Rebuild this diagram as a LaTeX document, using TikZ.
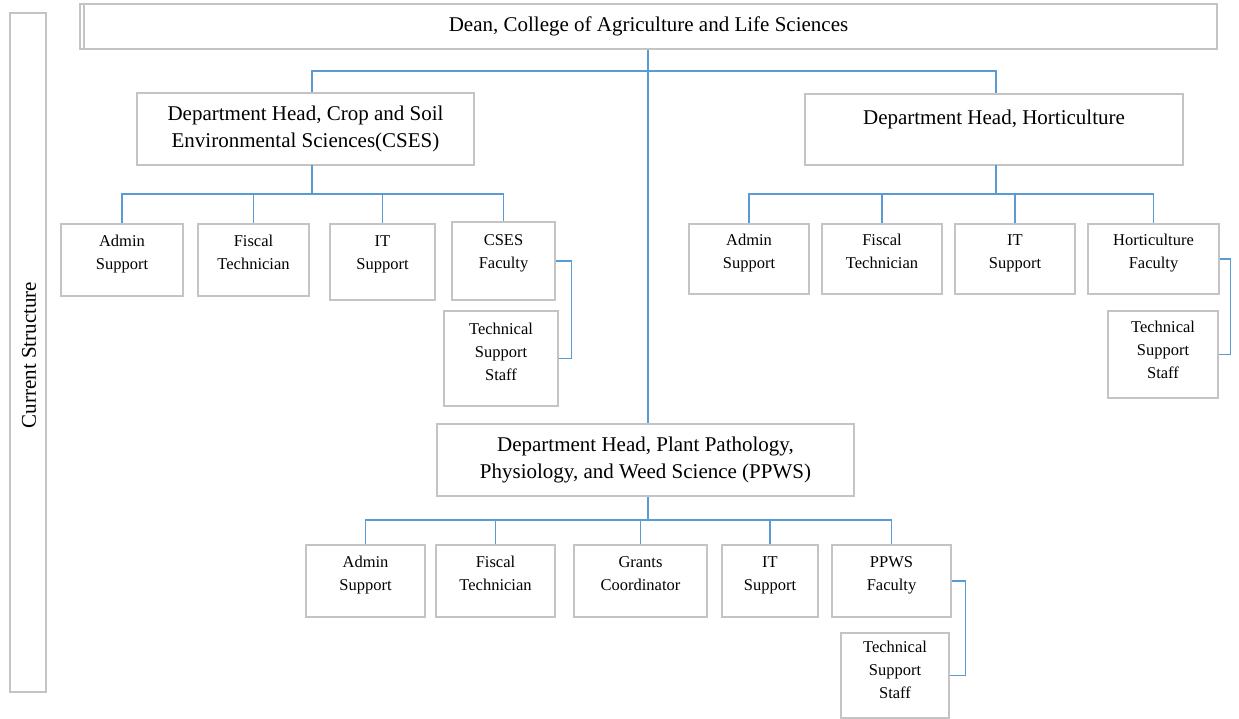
\documentclass[tikz,border=0pt]{standalone}
\usepackage{fontspec}
\setmainfont{Liberation Serif}
\definecolor{boxgray}{HTML}{C4C4C4}
\definecolor{connblue}{HTML}{5B9BD5}
\newcommand\bx[7][]{\node[box,#1, minimum width={(#5-#3)*1pt}, minimum height={(#6-#4)*1pt}] (#2) at ({(#3+#5)/2},{(#4+#6)/2}) {#7};}
\newcommand\up[1]{\rule[-#1]{0pt}{0pt}}
\begin{document}
\begin{tikzpicture}[x=1pt,y=-1pt,
  box/.style={draw=boxgray, line width=1.3pt, align=center, inner sep=0pt, fill=white,
    font=\fontsize{16.5}{23}\selectfont},
  head/.style={font=\fontsize{21}{27}\selectfont},
  conn/.style={draw=connblue, line width=1.5pt}]
\useasboundingbox (0,0) rectangle (1239,719);
% side frame
\bx{side}{10}{13}{46}{692}{}
\node[rotate=90, font=\fontsize{21}{24}\selectfont] (sidetext) at (29,355) {Current Structure};
% dean
\bx[head]{dean}{80}{4}{1217}{49}{Dean, College of Agriculture and Life Sciences}
\draw[boxgray, line width=1.3pt] (84,4) -- (84,49);
% heads
\bx[head]{cses}{137}{93}{474}{165}{Department Head, Crop and Soil\\Environmental Sciences(CSES)}
\bx[head]{hort}{805}{94}{1183}{165}{Department Head, Horticulture\up{24pt}}
\bx[head]{ppws}{437}{424}{854}{496}{Department Head, Plant Pathology,\\Physiology, and Weed Science (PPWS)}
% CSES children
\bx{cadm}{61}{224}{183}{296}{Admin\\Support\up{15pt}}
\bx{cfis}{198}{224}{309}{296}{Fiscal\\Technician\up{15pt}}
\bx{cit}{330}{224}{435}{300}{IT\\Support\up{19pt}}
\bx{cfac}{452}{222}{555}{300}{CSES\\Faculty\up{19pt}}
\bx{ctech}{444}{311}{558}{406}{Technical\\Support\\Staff\up{14pt}}
% Hort children
\bx{hadm}{689}{224}{809}{294}{Admin\\Support\up{15pt}}
\bx{hfis}{822}{224}{942}{294}{Fiscal\\Technician\up{15pt}}
\bx{hit}{955}{224}{1075}{294}{IT\\Support\up{15pt}}
\bx{hfac}{1088}{224}{1219}{294}{Horticulture\\Faculty\up{15pt}}
\bx{htech}{1108}{311}{1218}{398}{Technical\\Support\\Staff\up{10pt}}
% PPWS children
\bx{padm}{306}{545}{425}{617}{Admin\\Support\up{15pt}}
\bx{pfis}{436}{545}{555}{617}{Fiscal\\Technician\up{15pt}}
\bx{pgra}{574}{545}{707}{617}{Grants\\Coordinator\up{15pt}}
\bx{pit}{722}{545}{818}{617}{IT\\Support\up{15pt}}
\bx{pfac}{832}{545}{951}{617}{PPWS\\Faculty\up{15pt}}
\bx{ptech}{841}{633}{949}{718}{Technical\\Support\\Staff\up{12pt}}
% coordinates
\coordinate (topbus) at (648,71);
\coordinate (cstem) at (312,165);
\coordinate (cbus) at (312,194);
\coordinate (hstem) at (996,165);
\coordinate (hbus) at (996,194);
\coordinate (pbus) at (648,520);
% connectors
\draw[conn] (dean.south -| topbus) -- (topbus |- ppws.north);
\draw[conn] (topbus) -| (cstem |- cses.north);
\draw[conn] (topbus) -| (hstem |- hort.north);
\draw[conn] (cstem) -- (cbus);
\draw[conn] (cbus) -| (cadm.north);
\draw[conn] (cbus) -| (cfis.north);
\draw[conn] (cbus) -| (cit.north);
\draw[conn] (cbus) -| (cfac.north);
\draw[conn] (cfac.east) -- ++(16,0) |- (ctech.east);
\draw[conn] (hstem) -- (hbus);
\draw[conn] (hbus) -| (hadm.north);
\draw[conn] (hbus) -| (hfis.north);
\draw[conn] (hbus) -| (hit.north);
\draw[conn] (hbus) -| (hfac.north);
\draw[conn] (hfac.east) -- ++(11,0) |- (htech.east);
\draw[conn] (ppws.south -| pbus) -- (pbus);
\draw[conn] (pbus) -| (padm.north);
\draw[conn] (pbus) -| (pfis.north);
\draw[conn] (pbus) -| (pgra.north);
\draw[conn] (pbus) -| (pit.north);
\draw[conn] (pbus) -| (pfac.north);
\draw[conn] (pfac.east) -- ++(14,0) |- (ptech.east);
\end{tikzpicture}
\end{document}
